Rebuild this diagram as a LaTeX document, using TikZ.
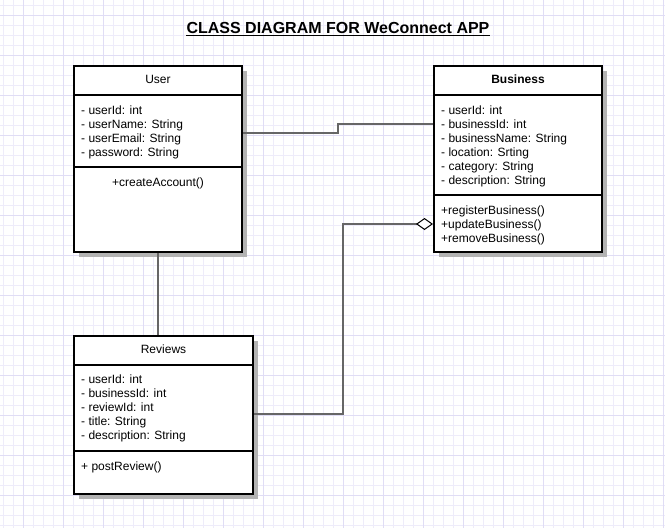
\documentclass[tikz,border=0pt]{standalone}
\usepackage{fontspec}
\setmainfont{Liberation Sans}
\usetikzlibrary{arrows.meta,shadows}
\definecolor{gridminor}{RGB}{238,236,250}
\definecolor{gridmajor}{RGB}{224,221,245}
\definecolor{connc}{RGB}{102,102,102}
\definecolor{shadowc}{RGB}{179,179,179}
\begin{document}
\begin{tikzpicture}[x=1pt,y=-1pt,
  every node/.style={font=\fontsize{12}{14}\selectfont, inner sep=0pt},
  umlbox/.style={draw=black, line width=2pt, fill=white, inner sep=0pt,
    drop shadow={shadow xshift=5pt, shadow yshift=-5pt, fill=shadowc, opacity=1}},
  txt/.style={anchor=base west},
  hdr/.style={anchor=base},
  sepline/.style={draw=black, line width=2pt},
  conn/.style={draw=connc, line width=1.5pt},
  gminor/.style={draw=gridminor, line width=1pt},
  gmajor/.style={draw=gridmajor, line width=1pt},
]
\useasboundingbox (0,0) rectangle (665,528);
\fill[white] (0,0) rectangle (665,528);
% grid
\foreach \x in {3,13,...,663} \draw[gminor] (\x,0) -- (\x,528);
\foreach \y in {5,15,...,525} \draw[gminor] (0,\y) -- (665,\y);
\foreach \x in {23,63,...,663} \draw[gmajor] (\x,0) -- (\x,528);
\foreach \y in {15,55,...,495} \draw[gmajor] (0,\y) -- (665,\y);

% title
\node[font=\fontsize{16}{19}\selectfont\bfseries, anchor=base] (title) at (338,33.5) {CLASS DIAGRAM FOR WeConnect APP};
\draw[line width=1.3pt] ([yshift=-2pt]title.base west) -- ([yshift=-2pt]title.base east);

% User
\node[umlbox, minimum width=168pt, minimum height=186pt] (user) at (158,159) {};
\node[hdr] (userT) at (158,83.3) {User};
\draw[sepline] (user.west |- 0,95) -- (user.east |- 0,95);
\node[txt] (u1) at (81,114) {- userId: int};
\node[txt] (u2) at (81,128) {- userName: String};
\node[txt] (u3) at (81,142) {- userEmail: String};
\node[txt] (u4) at (81,156) {- password: String};
\draw[sepline] (user.west |- 0,167) -- (user.east |- 0,167);
\node[hdr] (um1) at (158,186.3) {+createAccount()};

% Business
\node[umlbox, minimum width=168pt, minimum height=186pt] (business) at (518,159) {};
\node[hdr, font=\fontsize{12}{14}\selectfont\bfseries] (busT) at (518,83.3) {Business};
\draw[sepline] (business.west |- 0,95) -- (business.east |- 0,95);
\node[txt] (b1) at (441,114) {- userId: int};
\node[txt] (b2) at (441,128) {- businessId: int};
\node[txt] (b3) at (441,142) {- businessName: String};
\node[txt] (b4) at (441,156) {- location: Srting};
\node[txt] (b5) at (441,170) {- category: String};
\node[txt] (b6) at (441,184) {- description: String};
\draw[sepline] (business.west |- 0,195) -- (business.east |- 0,195);
\node[txt] (bm1) at (441,214.3) {+registerBusiness()};
\node[txt] (bm2) at (441,228.3) {+updateBusiness()};
\node[txt] (bm3) at (441,242.3) {+removeBusiness()};

% Reviews
\node[umlbox, minimum width=179pt, minimum height=158pt] (reviews) at (163.5,415) {};
\node[hdr] (revT) at (163.5,353.3) {Reviews};
\draw[sepline] (reviews.west |- 0,365) -- (reviews.east |- 0,365);
\node[txt] (r1) at (81,383.3) {- userId: int};
\node[txt] (r2) at (81,397.3) {- businessId: int};
\node[txt] (r3) at (81,411.3) {- reviewId: int};
\node[txt] (r4) at (81,425.3) {- title: String};
\node[txt] (r5) at (81,439.3) {- description: String};
\draw[sepline] (reviews.west |- 0,451) -- (reviews.east |- 0,451);
\node[txt] (rm1) at (81,470.3) {+ postReview()};

% connectors
\draw[conn] (user.east |- 0,133) -- (338,133) -- (338,124) -- (business.west |- 0,124);
\draw[conn, -{Diamond[fill=white, color=black, length=17pt, width=12pt, line width=1pt]}] (reviews.east |- 0,414) -| (343,224) -- (business.west |- 0,224);
\draw[conn] (user.south) -- (reviews.north -| user.south);
\end{tikzpicture}
\end{document}
